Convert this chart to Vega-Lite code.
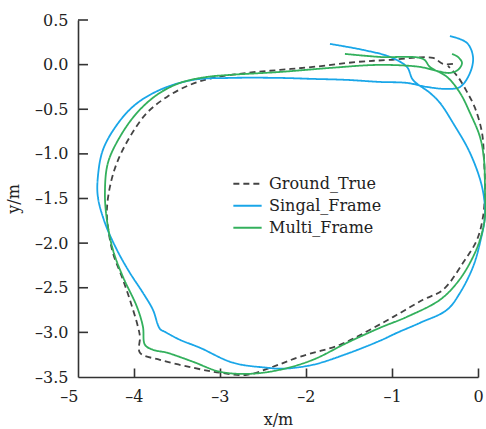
{
  "$schema": "https://vega.github.io/schema/vega-lite/v6.json",
  "autosize": {"type": "none"},
  "padding": {"left": 78, "top": 20, "right": 8, "bottom": 52},
  "width": 400,
  "height": 357,
  "background": "white",
  "config": {"view": {"stroke": null}, "font": "DejaVu Serif"},
  "data": {"values": [
    {"s":"Ground_True","i":1,"x":-0.291,"y":0.008},
    {"s":"Ground_True","i":2,"x":-0.407,"y":0.008},
    {"s":"Ground_True","i":3,"x":-0.523,"y":0.075},
    {"s":"Ground_True","i":4,"x":-1.023,"y":0.053},
    {"s":"Ground_True","i":5,"x":-1.407,"y":0.030},
    {"s":"Ground_True","i":6,"x":-1.919,"y":-0.026},
    {"s":"Ground_True","i":7,"x":-2.302,"y":-0.059},
    {"s":"Ground_True","i":8,"x":-2.686,"y":-0.093},
    {"s":"Ground_True","i":9,"x":-3.081,"y":-0.149},
    {"s":"Ground_True","i":10,"x":-3.349,"y":-0.227},
    {"s":"Ground_True","i":11,"x":-3.616,"y":-0.362},
    {"s":"Ground_True","i":12,"x":-3.849,"y":-0.541},
    {"s":"Ground_True","i":13,"x":-4.047,"y":-0.810},
    {"s":"Ground_True","i":14,"x":-4.198,"y":-1.101},
    {"s":"Ground_True","i":15,"x":-4.279,"y":-1.370},
    {"s":"Ground_True","i":16,"x":-4.314,"y":-1.627},
    {"s":"Ground_True","i":17,"x":-4.302,"y":-1.818},
    {"s":"Ground_True","i":18,"x":-4.244,"y":-2.109},
    {"s":"Ground_True","i":19,"x":-4.140,"y":-2.377},
    {"s":"Ground_True","i":20,"x":-4.047,"y":-2.635},
    {"s":"Ground_True","i":21,"x":-3.953,"y":-2.937},
    {"s":"Ground_True","i":22,"x":-3.930,"y":-3.049},
    {"s":"Ground_True","i":23,"x":-3.930,"y":-3.228},
    {"s":"Ground_True","i":24,"x":-3.698,"y":-3.307},
    {"s":"Ground_True","i":25,"x":-3.314,"y":-3.396},
    {"s":"Ground_True","i":26,"x":-3.000,"y":-3.452},
    {"s":"Ground_True","i":27,"x":-2.686,"y":-3.475},
    {"s":"Ground_True","i":28,"x":-2.384,"y":-3.385},
    {"s":"Ground_True","i":29,"x":-2.070,"y":-3.273},
    {"s":"Ground_True","i":30,"x":-1.605,"y":-3.139},
    {"s":"Ground_True","i":31,"x":-1.256,"y":-2.971},
    {"s":"Ground_True","i":32,"x":-0.942,"y":-2.803},
    {"s":"Ground_True","i":33,"x":-0.640,"y":-2.635},
    {"s":"Ground_True","i":34,"x":-0.407,"y":-2.523},
    {"s":"Ground_True","i":35,"x":-0.174,"y":-2.221},
    {"s":"Ground_True","i":36,"x":-0.012,"y":-1.963},
    {"s":"Ground_True","i":37,"x":0.058,"y":-1.706},
    {"s":"Ground_True","i":38,"x":0.081,"y":-1.403},
    {"s":"Ground_True","i":39,"x":0.070,"y":-1.067},
    {"s":"Ground_True","i":40,"x":0.047,"y":-0.765},
    {"s":"Ground_True","i":41,"x":-0.035,"y":-0.485},
    {"s":"Ground_True","i":42,"x":-0.128,"y":-0.306},
    {"s":"Ground_True","i":43,"x":-0.233,"y":-0.138},
    {"s":"Ground_True","i":44,"x":-0.349,"y":-0.015},
    {"s":"Singal_Frame","i":1,"x":-1.721,"y":0.232},
    {"s":"Singal_Frame","i":2,"x":-1.337,"y":0.165},
    {"s":"Singal_Frame","i":3,"x":-1.023,"y":0.086},
    {"s":"Singal_Frame","i":4,"x":-0.826,"y":-0.026},
    {"s":"Singal_Frame","i":5,"x":-0.756,"y":-0.171},
    {"s":"Singal_Frame","i":6,"x":-0.558,"y":-0.317},
    {"s":"Singal_Frame","i":7,"x":-0.442,"y":-0.429},
    {"s":"Singal_Frame","i":8,"x":-0.291,"y":-0.653},
    {"s":"Singal_Frame","i":9,"x":-0.093,"y":-0.989},
    {"s":"Singal_Frame","i":10,"x":0.047,"y":-1.370},
    {"s":"Singal_Frame","i":11,"x":0.081,"y":-1.683},
    {"s":"Singal_Frame","i":12,"x":0.023,"y":-1.997},
    {"s":"Singal_Frame","i":13,"x":-0.058,"y":-2.266},
    {"s":"Singal_Frame","i":14,"x":-0.209,"y":-2.557},
    {"s":"Singal_Frame","i":15,"x":-0.360,"y":-2.747},
    {"s":"Singal_Frame","i":16,"x":-0.674,"y":-2.893},
    {"s":"Singal_Frame","i":17,"x":-0.942,"y":-3.005},
    {"s":"Singal_Frame","i":18,"x":-1.140,"y":-3.094},
    {"s":"Singal_Frame","i":19,"x":-1.523,"y":-3.240},
    {"s":"Singal_Frame","i":20,"x":-1.919,"y":-3.363},
    {"s":"Singal_Frame","i":21,"x":-2.267,"y":-3.407},
    {"s":"Singal_Frame","i":22,"x":-2.453,"y":-3.396},
    {"s":"Singal_Frame","i":23,"x":-2.849,"y":-3.340},
    {"s":"Singal_Frame","i":24,"x":-3.233,"y":-3.172},
    {"s":"Singal_Frame","i":25,"x":-3.465,"y":-3.083},
    {"s":"Singal_Frame","i":26,"x":-3.640,"y":-2.994},
    {"s":"Singal_Frame","i":27,"x":-3.698,"y":-2.960},
    {"s":"Singal_Frame","i":28,"x":-3.779,"y":-2.747},
    {"s":"Singal_Frame","i":29,"x":-3.895,"y":-2.557},
    {"s":"Singal_Frame","i":30,"x":-4.047,"y":-2.333},
    {"s":"Singal_Frame","i":31,"x":-4.198,"y":-2.075},
    {"s":"Singal_Frame","i":32,"x":-4.337,"y":-1.773},
    {"s":"Singal_Frame","i":33,"x":-4.419,"y":-1.482},
    {"s":"Singal_Frame","i":34,"x":-4.419,"y":-1.258},
    {"s":"Singal_Frame","i":35,"x":-4.360,"y":-0.955},
    {"s":"Singal_Frame","i":36,"x":-4.198,"y":-0.675},
    {"s":"Singal_Frame","i":37,"x":-3.988,"y":-0.451},
    {"s":"Singal_Frame","i":38,"x":-3.698,"y":-0.283},
    {"s":"Singal_Frame","i":39,"x":-3.314,"y":-0.171},
    {"s":"Singal_Frame","i":40,"x":-2.884,"y":-0.149},
    {"s":"Singal_Frame","i":41,"x":-2.302,"y":-0.149},
    {"s":"Singal_Frame","i":42,"x":-1.919,"y":-0.160},
    {"s":"Singal_Frame","i":43,"x":-1.523,"y":-0.171},
    {"s":"Singal_Frame","i":44,"x":-1.140,"y":-0.194},
    {"s":"Singal_Frame","i":45,"x":-0.826,"y":-0.205},
    {"s":"Singal_Frame","i":46,"x":-0.593,"y":-0.250},
    {"s":"Singal_Frame","i":47,"x":-0.360,"y":-0.272},
    {"s":"Singal_Frame","i":48,"x":-0.209,"y":-0.250},
    {"s":"Singal_Frame","i":49,"x":-0.093,"y":-0.093},
    {"s":"Singal_Frame","i":50,"x":-0.058,"y":0.086},
    {"s":"Singal_Frame","i":51,"x":-0.128,"y":0.243},
    {"s":"Singal_Frame","i":52,"x":-0.326,"y":0.321},
    {"s":"Multi_Frame","i":1,"x":-1.547,"y":0.120},
    {"s":"Multi_Frame","i":2,"x":-1.140,"y":0.086},
    {"s":"Multi_Frame","i":3,"x":-0.640,"y":0.064},
    {"s":"Multi_Frame","i":4,"x":-0.558,"y":-0.026},
    {"s":"Multi_Frame","i":5,"x":-0.360,"y":-0.138},
    {"s":"Multi_Frame","i":6,"x":-0.209,"y":-0.317},
    {"s":"Multi_Frame","i":7,"x":-0.093,"y":-0.541},
    {"s":"Multi_Frame","i":8,"x":0.023,"y":-0.810},
    {"s":"Multi_Frame","i":9,"x":0.070,"y":-1.067},
    {"s":"Multi_Frame","i":10,"x":0.081,"y":-1.403},
    {"s":"Multi_Frame","i":11,"x":0.081,"y":-1.706},
    {"s":"Multi_Frame","i":12,"x":0.023,"y":-1.963},
    {"s":"Multi_Frame","i":13,"x":-0.093,"y":-2.221},
    {"s":"Multi_Frame","i":14,"x":-0.244,"y":-2.445},
    {"s":"Multi_Frame","i":15,"x":-0.442,"y":-2.635},
    {"s":"Multi_Frame","i":16,"x":-0.826,"y":-2.826},
    {"s":"Multi_Frame","i":17,"x":-1.140,"y":-2.949},
    {"s":"Multi_Frame","i":18,"x":-1.523,"y":-3.117},
    {"s":"Multi_Frame","i":19,"x":-1.919,"y":-3.307},
    {"s":"Multi_Frame","i":20,"x":-2.302,"y":-3.419},
    {"s":"Multi_Frame","i":21,"x":-2.651,"y":-3.464},
    {"s":"Multi_Frame","i":22,"x":-3.000,"y":-3.441},
    {"s":"Multi_Frame","i":23,"x":-3.314,"y":-3.329},
    {"s":"Multi_Frame","i":24,"x":-3.616,"y":-3.228},
    {"s":"Multi_Frame","i":25,"x":-3.779,"y":-3.195},
    {"s":"Multi_Frame","i":26,"x":-3.872,"y":-3.139},
    {"s":"Multi_Frame","i":27,"x":-3.895,"y":-2.937},
    {"s":"Multi_Frame","i":28,"x":-3.965,"y":-2.713},
    {"s":"Multi_Frame","i":29,"x":-4.128,"y":-2.377},
    {"s":"Multi_Frame","i":30,"x":-4.244,"y":-2.075},
    {"s":"Multi_Frame","i":31,"x":-4.314,"y":-1.739},
    {"s":"Multi_Frame","i":32,"x":-4.337,"y":-1.437},
    {"s":"Multi_Frame","i":33,"x":-4.302,"y":-1.101},
    {"s":"Multi_Frame","i":34,"x":-4.163,"y":-0.810},
    {"s":"Multi_Frame","i":35,"x":-3.965,"y":-0.541},
    {"s":"Multi_Frame","i":36,"x":-3.733,"y":-0.339},
    {"s":"Multi_Frame","i":37,"x":-3.465,"y":-0.205},
    {"s":"Multi_Frame","i":38,"x":-3.151,"y":-0.138},
    {"s":"Multi_Frame","i":39,"x":-2.884,"y":-0.115},
    {"s":"Multi_Frame","i":40,"x":-2.302,"y":-0.082},
    {"s":"Multi_Frame","i":41,"x":-1.721,"y":-0.037},
    {"s":"Multi_Frame","i":42,"x":-1.140,"y":-0.003},
    {"s":"Multi_Frame","i":43,"x":-0.674,"y":-0.026},
    {"s":"Multi_Frame","i":44,"x":-0.477,"y":-0.071},
    {"s":"Multi_Frame","i":45,"x":-0.326,"y":-0.093},
    {"s":"Multi_Frame","i":46,"x":-0.233,"y":-0.059},
    {"s":"Multi_Frame","i":47,"x":-0.186,"y":0.019},
    {"s":"Multi_Frame","i":48,"x":-0.233,"y":0.086},
    {"s":"Multi_Frame","i":49,"x":-0.302,"y":0.120}
  ]},
  "resolve": {"axis": {"x": "independent", "y": "independent"}},
  "layer": [
    {
      "mark": {"type": "line", "strokeWidth": 1.8, "interpolate": "catmull-rom"},
      "encoding": {
        "x": {
          "field": "x", "type": "quantitative",
          "scale": {"domain": [-4.65, 0], "nice": false, "zero": false},
          "axis": {
            "orient": "bottom",
            "title": "x/m", "grid": false, "ticks": false,
            "values": [-4.65, -4, -3, -2, -1, 0],
            "labelExpr": "datum.value < -4.5 ? '–5' : (datum.value < 0 ? '–' : '') + format(abs(datum.value), 'd')",
            "labelAlign": {"condition": {"test": "datum.value < -4.5", "value": "right"}, "value": "center"},
            "domainColor": "#333", "domainWidth": 1.6,
            "labelPadding": 11, "labelFontSize": 16, "labelColor": "#222", "labelFont": "DejaVu Serif",
            "titleFontSize": 16, "titleFontWeight": "normal", "titleColor": "#222", "titleFont": "DejaVu Serif", "titlePadding": 7
          }
        },
        "y": {
          "field": "y", "type": "quantitative",
          "scale": {"domain": [-3.5, 0.5], "nice": false, "zero": false},
          "axis": {
            "orient": "left",
            "title": "y/m", "grid": false, "ticks": false,
            "values": [0.5, 0, -0.5, -1, -1.5, -2, -2.5, -3, -3.5],
            "labelExpr": "(datum.value < 0 ? '–' : '') + format(abs(datum.value), '.1f')",
            "domainColor": "#333", "domainWidth": 1.6,
            "labelPadding": 10, "labelFontSize": 16, "labelColor": "#222", "labelFont": "DejaVu Serif",
            "titleFontSize": 16, "titleFontWeight": "normal", "titleColor": "#222", "titleFont": "DejaVu Serif", "titlePadding": 13
          }
        },
        "color": {
          "field": "s", "type": "nominal",
          "scale": {"domain": ["Ground_True", "Singal_Frame", "Multi_Frame"], "range": ["#444444", "#19a6e8", "#33b05c"]},
          "legend": {
            "title": null, "orient": "none", "legendX": 154, "legendY": 153,
            "symbolType": "stroke", "symbolSize": 800, "symbolStrokeWidth": 2,
            "labelFontSize": 16, "labelFont": "DejaVu Serif", "labelColor": "#222", "labelOffset": 6,
            "rowPadding": 0, "clipHeight": 21.5, "padding": 0
          }
        },
        "strokeDash": {
          "field": "s", "type": "nominal",
          "scale": {"domain": ["Ground_True", "Singal_Frame", "Multi_Frame"], "range": [[6, 4], [1, 0], [1, 0]]}
        },
        "order": {"field": "i", "type": "quantitative"}
      }
    },
    {
      "transform": [{"filter": "datum.i == 1 && datum.s == 'Ground_True'"}],
      "mark": {"type": "point", "opacity": 0},
      "encoding": {
        "x": {
          "field": "x", "type": "quantitative",
          "axis": {
            "orient": "top",
            "title": null, "grid": false, "domain": false, "labels": false,
            "values": [-4, -3, -2, -1, 0], "offset": -357,
            "tickSize": 9, "tickColor": "#333", "tickWidth": 1.6
          }
        },
        "y": {"field": "y", "type": "quantitative", "axis": null}
      }
    },
    {
      "data": {"values": [{"t": 0.5}, {"t": 0}, {"t": -0.5}, {"t": -1}, {"t": -1.5}, {"t": -2}, {"t": -2.5}, {"t": -3}]},
      "mark": {"type": "rule", "color": "#333", "strokeWidth": 1.6},
      "encoding": {
        "y": {"field": "t", "type": "quantitative", "axis": null},
        "x": {"datum": -4.65, "axis": null},
        "x2": {"datum": -4.534}
      }
    }
  ]
}
